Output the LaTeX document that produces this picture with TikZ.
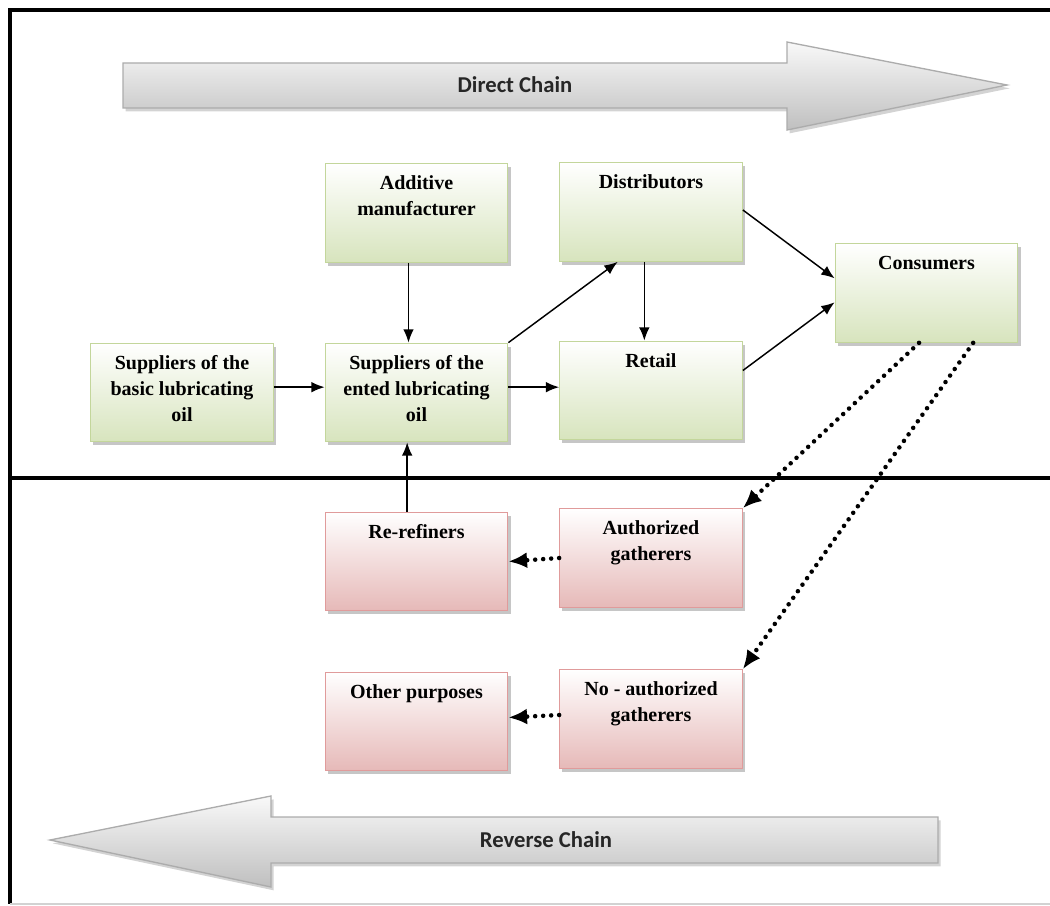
\documentclass[tikz,border=0pt]{standalone}
\usepackage{fontspec}
\setmainfont{Liberation Serif}
\newfontfamily\chainfont{Carlito}
\usetikzlibrary{arrows.meta,shadows}
\definecolor{boxgreen}{HTML}{D7E4BD}
\definecolor{linegreen}{HTML}{C3D69B}
\definecolor{boxred}{HTML}{E6B9B8}
\definecolor{linered}{HTML}{E09B9B}

\begin{document}
\begin{tikzpicture}[x=0.75pt,y=-0.75pt,
    box/.style={minimum width=137pt,minimum height=74pt,inner sep=0pt,line width=0.8pt,
        drop shadow={shadow xshift=2pt,shadow yshift=-2.5pt,opacity=0.45}},
    greenbox/.style={box,draw=linegreen,top color=white,bottom color=boxgreen},
    redbox/.style={box,draw=linered,top color=white,bottom color=boxred},
    boxtext/.style={font=\fontsize{15}{19.5}\selectfont\bfseries,align=center,anchor=north,yshift=-6pt},
    flow/.style={-{Latex[length=10pt,width=8pt]},line width=1.1pt},
    back/.style={-{Latex[length=14pt,width=12pt]},line width=3.4pt,dash pattern=on 0pt off 6pt,line cap=round},
    bigarrow/.style={draw=gray!65,line width=1pt,top color=gray!5,bottom color=gray!50,
        drop shadow={shadow xshift=2pt,shadow yshift=-2.5pt,opacity=0.35}},
    chain/.style={font=\chainfont\bfseries\fontsize{17}{20}\selectfont,text=black!85}]
    \useasboundingbox (0,0) rectangle (1050,906);

    \draw [line width=2.6pt] (1050,10) -- (10,10) -- (10,904);
    \draw [line width=1.5pt,gray!35] (10,904) -- (1050,904);
    \draw [line width=2.6pt] (10,478) -- (1050,478);

    \draw [bigarrow] (123,63) -- (787,63) -- (787,42) -- (1007,85) -- (787,130) -- (787,108) -- (123,108) -- cycle;
    \node [chain] (direct) at (515,85) {Direct Chain};
    \draw [bigarrow] (938,817) -- (271,817) -- (271,796) -- (50,840) -- (271,887) -- (271,863) -- (938,863) -- cycle;
    \node [chain] (reverse) at (546,840) {Reverse Chain};

    \node [greenbox,label={[boxtext]north:Additive\\manufacturer}] (add) at (416.5,213) {};
    \node [greenbox,label={[boxtext]north:Suppliers of the\\basic lubricating\\oil}] (basic) at (182,392.5) {};
    \node [greenbox,label={[boxtext]north:Suppliers of the\\ented lubricating\\oil}] (ented) at (416.5,392.5) {};
    \node [greenbox,label={[boxtext]north:Distributors}] (dist) at (651,212) {};
    \node [greenbox,label={[boxtext]north:Retail}] (retail) at (651,390.5) {};
    \node [greenbox,label={[boxtext]north:Consumers}] (cons) at (926.5,293) {};
    \node [redbox,label={[boxtext]north:Re-refiners}] (reref) at (416.5,561.5) {};
    \node [redbox,label={[boxtext]north:Authorized\\gatherers}] (auth) at (651,558) {};
    \node [redbox,label={[boxtext]north:Other purposes}] (other) at (416.5,721.5) {};
    \node [redbox,label={[boxtext]north:No - authorized\\gatherers}] (noauth) at (651,719) {};

    \draw [flow] ([xshift=-6pt]add.south) -- ([xshift=-6pt]ented.north);
    \draw [flow] ([yshift=4pt]basic.east) -- ([yshift=4pt]ented.west);
    \draw [flow] (ented.north east) -- ([xshift=-25pt]dist.south);
    \draw [flow] ([yshift=4pt]ented.east) -- ([yshift=2.5pt]retail.west);
    \draw [flow] ([xshift=-5pt]dist.south) -- ([xshift=-5pt]retail.north);
    \draw [flow] ([yshift=1.5pt]dist.east) -- ([yshift=11pt]cons.west);
    \draw [flow] ([yshift=15pt]retail.east) -- ([yshift=-7pt]cons.west);
    \draw [flow] ([xshift=-7pt]reref.north) -- ([xshift=-7pt]ented.south);

    \draw [back] ([xshift=-5.6pt]cons.south) -- (auth.north east);
    \draw [back] ([xshift=35pt]cons.south) -- (noauth.north east);
    \draw [back] (auth.west) -- (reref.east);
    \draw [back] ([yshift=3pt]noauth.west) -- ([yshift=3pt]other.east);
\end{tikzpicture}
\end{document}
